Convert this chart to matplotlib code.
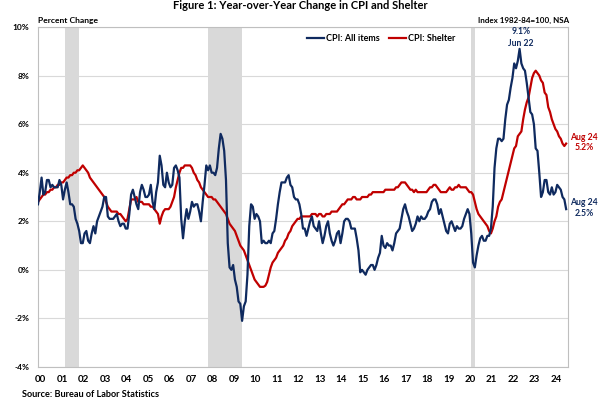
import numpy as np
import matplotlib
matplotlib.use('Agg')
import matplotlib.pyplot as plt

plt.rcParams['font.family'] = ['Lato', 'DejaVu Sans']

# YoY % change, monthly, Jan 2000 - Aug 2024
cpi_all = [
    2.7, 3.2, 3.8, 3.1, 3.2, 3.7, 3.7, 3.4, 3.5, 3.4, 3.4, 3.4,  # 2000
    3.7, 3.5, 2.9, 3.3, 3.6, 3.2, 2.7, 2.7, 2.6, 2.1, 1.9, 1.6,  # 2001
    1.1, 1.1, 1.5, 1.6, 1.2, 1.1, 1.5, 1.8, 1.5, 2.0, 2.2, 2.4,  # 2002
    2.6, 3.0, 3.0, 2.2, 2.1, 2.1, 2.1, 2.2, 2.3, 2.0, 1.8, 1.9,  # 2003
    1.9, 1.7, 1.7, 2.3, 3.1, 3.3, 3.0, 2.7, 2.5, 3.2, 3.5, 3.3,  # 2004
    3.0, 3.0, 3.1, 3.5, 2.8, 2.5, 3.2, 3.6, 4.7, 4.3, 3.5, 3.4,  # 2005
    4.0, 3.6, 3.4, 3.5, 4.2, 4.3, 4.1, 3.8, 2.1, 1.3, 2.0, 2.5,  # 2006
    2.1, 2.4, 2.8, 2.6, 2.7, 2.7, 2.4, 2.0, 2.8, 3.5, 4.3, 4.1,  # 2007
    4.3, 4.0, 4.0, 3.9, 4.2, 5.0, 5.6, 5.4, 4.9, 3.7, 1.1, 0.1,  # 2008
    0.0, 0.2, -0.4, -0.7, -1.3, -1.4, -2.1, -1.5, -1.3, -0.2, 1.8, 2.7,  # 2009
    2.6, 2.1, 2.3, 2.2, 2.0, 1.1, 1.2, 1.1, 1.1, 1.2, 1.1, 1.5,  # 2010
    1.6, 2.1, 2.7, 3.2, 3.6, 3.6, 3.6, 3.8, 3.9, 3.5, 3.4, 3.0,  # 2011
    2.9, 2.9, 2.7, 2.3, 1.7, 1.7, 1.4, 1.7, 2.0, 2.2, 1.8, 1.7,  # 2012
    1.6, 2.0, 1.5, 1.1, 1.4, 1.8, 2.0, 1.5, 1.2, 1.0, 1.2, 1.5,  # 2013
    1.6, 1.1, 1.5, 2.0, 2.1, 2.1, 2.0, 1.7, 1.7, 1.7, 1.3, 0.8,  # 2014
    -0.1, 0.0, -0.1, -0.2, 0.0, 0.1, 0.2, 0.2, 0.0, 0.2, 0.5, 0.7,  # 2015
    1.4, 1.0, 0.9, 1.1, 1.0, 1.0, 0.8, 1.1, 1.5, 1.6, 1.7, 2.1,  # 2016
    2.5, 2.7, 2.4, 2.2, 1.9, 1.6, 1.7, 1.9, 2.2, 2.0, 2.2, 2.1,  # 2017
    2.1, 2.2, 2.4, 2.5, 2.8, 2.9, 2.9, 2.7, 2.3, 2.5, 2.2, 1.9,  # 2018
    1.6, 1.5, 1.9, 2.0, 1.8, 1.6, 1.8, 1.7, 1.7, 1.8, 2.1, 2.3,  # 2019
    2.5, 2.3, 1.5, 0.3, 0.1, 0.6, 1.0, 1.3, 1.4, 1.2, 1.2, 1.4,  # 2020
    1.4, 1.7, 2.6, 4.2, 5.0, 5.4, 5.4, 5.3, 5.4, 6.2, 6.8, 7.0,  # 2021
    7.5, 7.9, 8.5, 8.3, 8.6, 9.1, 8.5, 8.3, 8.2, 7.7, 7.1, 6.5,  # 2022
    6.4, 6.0, 5.0, 4.9, 4.0, 3.0, 3.2, 3.7, 3.7, 3.2, 3.1, 3.4,  # 2023
    3.1, 3.2, 3.5, 3.4, 3.3, 3.0, 2.9, 2.5,                      # 2024
]

cpi_shelter = [
    2.8, 2.9, 3.0, 3.1, 3.1, 3.2, 3.2, 3.3, 3.3, 3.4, 3.4, 3.5,  # 2000
    3.5, 3.6, 3.6, 3.7, 3.8, 3.8, 3.9, 3.9, 4.0, 4.0, 4.1, 4.1,  # 2001
    4.2, 4.3, 4.2, 4.1, 4.0, 3.8, 3.7, 3.6, 3.5, 3.4, 3.3, 3.2,  # 2002
    3.1, 3.0, 2.8, 2.6, 2.5, 2.4, 2.4, 2.4, 2.4, 2.3, 2.3, 2.2,  # 2003
    2.1, 2.0, 2.1, 2.5, 2.9, 2.9, 2.9, 3.0, 2.8, 2.8, 2.8, 2.7,  # 2004
    2.7, 2.7, 2.7, 2.6, 2.6, 2.5, 2.4, 2.3, 1.9, 2.2, 2.4, 2.5,  # 2005
    2.5, 2.5, 2.6, 2.8, 3.0, 3.4, 3.7, 4.0, 4.2, 4.2, 4.3, 4.3,  # 2006
    4.3, 4.3, 4.2, 4.0, 3.9, 3.7, 3.6, 3.4, 3.3, 3.2, 3.1, 3.0,  # 2007
    3.0, 3.0, 2.9, 2.9, 2.8, 2.7, 2.6, 2.5, 2.4, 2.3, 2.1, 1.9,  # 2008
    1.8, 1.7, 1.6, 1.4, 1.2, 1.0, 0.9, 0.8, 0.6, 0.4, 0.2, 0.0,  # 2009
    -0.2, -0.4, -0.5, -0.6, -0.7, -0.7, -0.7, -0.65, -0.5, -0.2, 0.1, 0.3,  # 2010
    0.4, 0.5, 0.7, 0.8, 0.9, 1.0, 1.2, 1.3, 1.5, 1.6, 1.8, 1.9,  # 2011
    2.0, 2.1, 2.1, 2.2, 2.2, 2.2, 2.2, 2.2, 2.2, 2.3, 2.3, 2.3,  # 2012
    2.2, 2.3, 2.3, 2.2, 2.2, 2.3, 2.3, 2.3, 2.4, 2.4, 2.4, 2.4,  # 2013
    2.5, 2.6, 2.7, 2.7, 2.8, 2.9, 2.9, 2.9, 3.0, 3.0, 2.9, 2.9,  # 2014
    2.9, 3.0, 3.0, 3.0, 3.0, 3.1, 3.1, 3.2, 3.2, 3.2, 3.2, 3.2,  # 2015
    3.2, 3.2, 3.3, 3.3, 3.3, 3.3, 3.3, 3.3, 3.4, 3.4, 3.5, 3.6,  # 2016
    3.6, 3.6, 3.5, 3.4, 3.3, 3.3, 3.2, 3.3, 3.2, 3.2, 3.2, 3.2,  # 2017
    3.2, 3.2, 3.3, 3.4, 3.4, 3.5, 3.5, 3.4, 3.3, 3.2, 3.2, 3.2,  # 2018
    3.2, 3.3, 3.4, 3.3, 3.3, 3.4, 3.4, 3.5, 3.4, 3.4, 3.4, 3.4,  # 2019
    3.3, 3.2, 3.2, 3.1, 2.8, 2.5, 2.3, 2.2, 2.1, 2.0, 1.9, 1.8,  # 2020
    1.6, 1.5, 1.7, 2.0, 2.2, 2.6, 2.8, 2.9, 3.2, 3.5, 3.8, 4.1,  # 2021
    4.4, 4.7, 5.0, 5.1, 5.5, 5.6, 5.7, 6.2, 6.6, 6.9, 7.1, 7.5,  # 2022
    7.9, 8.1, 8.2, 8.1, 8.0, 7.8, 7.7, 7.3, 7.2, 6.7, 6.5, 6.2,  # 2023
    6.0, 5.8, 5.7, 5.5, 5.4, 5.2, 5.1, 5.2,                      # 2024
]

# recession periods (decimal years)
recessions = [(2001.25, 2001.92), (2007.92, 2009.5), (2020.17, 2020.33)]

year_labels = ['%02d' % y for y in range(0, 25)]
y_ticks = [-4, -2, 0, 2, 4, 6, 8, 10]

navy = '#0f2a5f'
red = '#c00000'

x = 2000 + np.arange(len(cpi_all)) / 12.0

fig = plt.figure(figsize=(6, 4), dpi=100)
ax = fig.add_axes([38/600, 33/400, 530/600, 340/400])

for s, e in recessions:
    ax.axvspan(s, e, color='#d9d9d9', lw=0, zorder=0)

ax.plot(x, cpi_all, color=navy, lw=1.6, label='CPI: All items', zorder=3)
ax.plot(x, cpi_shelter, color=red, lw=1.6, label='CPI: Shelter', zorder=2)

ax.set_xlim(2000.0, 2024.67)
ax.set_ylim(-4, 10)
ax.set_yticks(y_ticks)
ax.set_yticklabels(['%d%%' % v for v in y_ticks], fontsize=6, fontweight='bold')
ax.set_xticks(np.arange(2000, 2025) + 0.12)
ax.set_xticklabels(year_labels, fontsize=7, fontweight='bold')
ax.tick_params(length=0, pad=6)
ax.tick_params(axis='y', pad=6)
ax.grid(axis='y', color='#d9d9d9', lw=0.8, zorder=1)
ax.set_axisbelow(True)
for sp in ax.spines.values():
    sp.set_color('#bfbfbf')
    sp.set_linewidth(0.8)

ax.legend(loc='upper left', bbox_to_anchor=(0.495, 1.0), ncol=2, frameon=False,
          prop={'size': 6.5, 'weight': 'bold'}, handlelength=1.9, handletextpad=0.15,
          columnspacing=1.1, borderaxespad=0.35)

fig.text(0.5, 0.999, 'Figure 1: Year-over-Year Change in CPI and Shelter',
         ha='center', va='top', fontsize=8, fontweight='bold')
fig.text(38/600, 1 - 20/400, 'Percent Change', ha='left', va='center',
         fontsize=6.1, fontweight='bold')
fig.text(569/600, 1 - 20/400, 'Index 1982-84=100, NSA', ha='right', va='center',
         fontsize=5.8, fontweight='bold')
fig.text(22/600, 0.003, 'Source: Bureau of Labor Statistics', ha='left',
         va='bottom', fontsize=6.6, fontweight='bold')

fig.text(521/600, 1 - 32/400, '9.1%', ha='center', va='center', fontsize=6.2,
         fontweight='bold', color=navy)
fig.text(521/600, 1 - 43/400, 'Jun 22', ha='center', va='center', fontsize=6.2,
         fontweight='bold', color=navy)
fig.text(584/600, 1 - 137/400, 'Aug 24', ha='center', va='center', fontsize=6.2,
         fontweight='bold', color=red)
fig.text(584/600, 1 - 148/400, '5.2%', ha='center', va='center', fontsize=6.2,
         fontweight='bold', color=red)
fig.text(584/600, 1 - 203/400, 'Aug 24', ha='center', va='center', fontsize=6.2,
         fontweight='bold', color=navy)
fig.text(584/600, 1 - 214/400, '2.5%', ha='center', va='center', fontsize=6.2,
         fontweight='bold', color=navy)

fig.savefig('out.png', dpi=100)
